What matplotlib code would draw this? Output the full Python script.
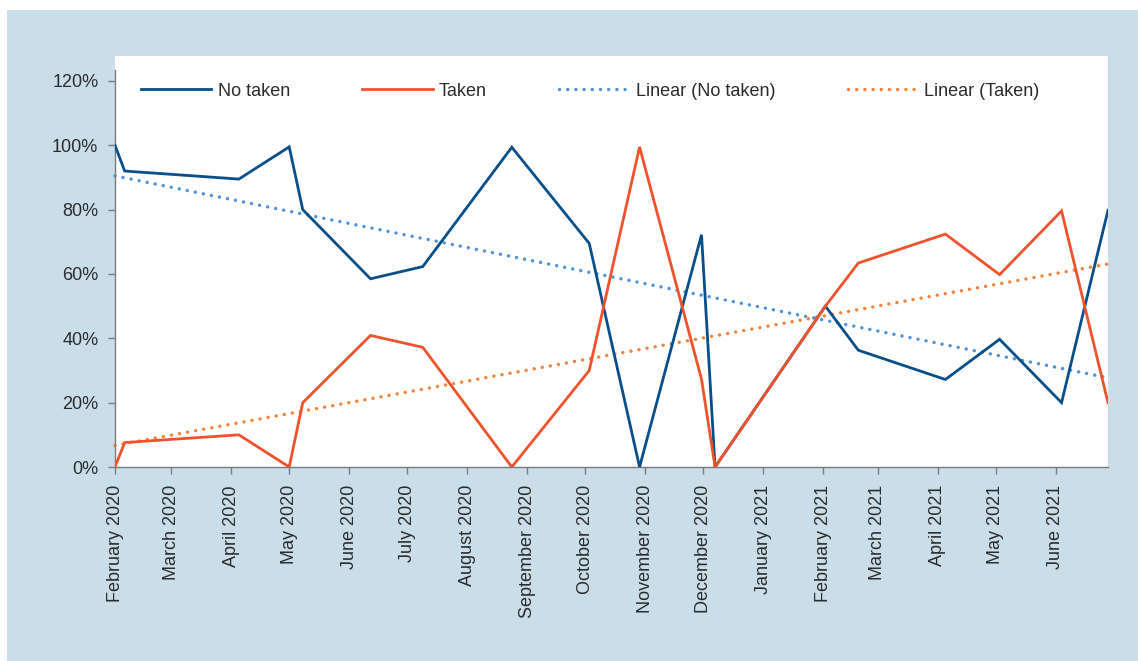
import matplotlib
matplotlib.use("Agg")
import matplotlib.pyplot as plt
import matplotlib.dates as mdates
from matplotlib.patches import Rectangle
from matplotlib.ticker import PercentFormatter
import numpy as np
import pandas as pd

plt.rcParams['font.family'] = ['Liberation Sans', 'DejaVu Sans']

# ---- data ----
dates = ['2020-02-01', '2020-02-06', '2020-04-05', '2020-05-01', '2020-05-08',
         '2020-06-12', '2020-07-09', '2020-08-24', '2020-10-03', '2020-10-29',
         '2020-11-30', '2020-12-07', '2021-02-02', '2021-02-19', '2021-04-05',
         '2021-05-03', '2021-06-04', '2021-06-28']
no_taken = [100, 92, 89.5, 99.5, 80, 58.5, 62.3, 99.4, 69.5, 0,
            72.2, 0, 50, 36.3, 27.2, 39.7, 20, 79.8]
taken = [0, 7.6, 10, 0, 20, 40.9, 37.2, 0, 30, 99.5,
         27.3, 0, 50, 63.4, 72.4, 59.8, 79.6, 20]
series_names = ['No taken', 'Taken', 'Linear (No taken)', 'Linear (Taken)']
y_ticks = [0, 20, 40, 60, 80, 100, 120]

W, H = 1138, 661
fig = plt.figure(figsize=(W / 100, H / 100), dpi=100, facecolor='white')
fig.patches.append(Rectangle((7 / W, 0), 1 - 7 / W, 1 - 10 / H,
                             transform=fig.transFigure, facecolor='#cadeea',
                             edgecolor='none', zorder=-10))

ax = fig.add_axes([115 / W, (H - 467) / H, 993 / W, 411 / H])
ax.set_facecolor('white')

x = pd.to_datetime(dates)
xn = mdates.date2num(x)

c_blue, c_orange = '#064f8a', '#f0532c'
c_lblue, c_lorange = '#4d95d8', '#f3843a'

l1, = ax.plot(x, no_taken, color=c_blue, lw=2.0, label=series_names[0],
              solid_joinstyle='miter', zorder=3)
l2, = ax.plot(x, taken, color=c_orange, lw=2.0, label=series_names[1],
              solid_joinstyle='miter', zorder=3)

# linear trendlines (least squares on the date values)
xe = np.array([xn[0], xn[-1]])
p1 = np.polyfit(xn, no_taken, 1)
p2 = np.polyfit(xn, taken, 1)
l3, = ax.plot(mdates.num2date(xe), np.polyval(p1, xe), color=c_lblue, lw=2.5,
              linestyle=(0, (0.01, 2.35)), dash_capstyle='round',
              label=series_names[2], clip_on=False, zorder=2)
l4, = ax.plot(mdates.num2date(xe), np.polyval(p2, xe), color=c_lorange, lw=2.5,
              linestyle=(0, (0.01, 2.35)), dash_capstyle='round',
              label=series_names[3], clip_on=False, zorder=2)

ax.set_xlim(xn[0], xn[-1])
ax.set_ylim(0, 127.76)
ax.set_yticks(y_ticks)
ax.yaxis.set_major_formatter(PercentFormatter(xmax=100, decimals=0))

ax.xaxis.set_major_locator(mdates.MonthLocator())
ax.xaxis.set_major_formatter(mdates.DateFormatter('%B %Y'))

for s in ['top', 'right']:
    ax.spines[s].set_visible(False)
for s in ['left', 'bottom']:
    ax.spines[s].set_color('#7a7a7a')
    ax.spines[s].set_linewidth(1.0)
ax.spines['left'].set_bounds(0, 123.4)

ax.tick_params(axis='both', direction='out', length=5, width=1.0,
               color='#7a7a7a', labelcolor='#2b2b2b', labelsize=13)
ax.tick_params(axis='y', pad=7)
ax.tick_params(axis='x', pad=8, labelrotation=90)

leg = ax.legend(handles=[l1, l2, l3, l4], loc='center left',
                bbox_to_anchor=(141 / W, 1 - 91 / H), bbox_transform=fig.transFigure,
                ncol=4, frameon=False, fontsize=13, handlelength=3.9,
                handletextpad=0.35, columnspacing=4.0, borderpad=0,
                borderaxespad=0)
for t in leg.get_texts():
    t.set_color('#2b2b2b')

fig.savefig('out.png', dpi=100, facecolor='white')
